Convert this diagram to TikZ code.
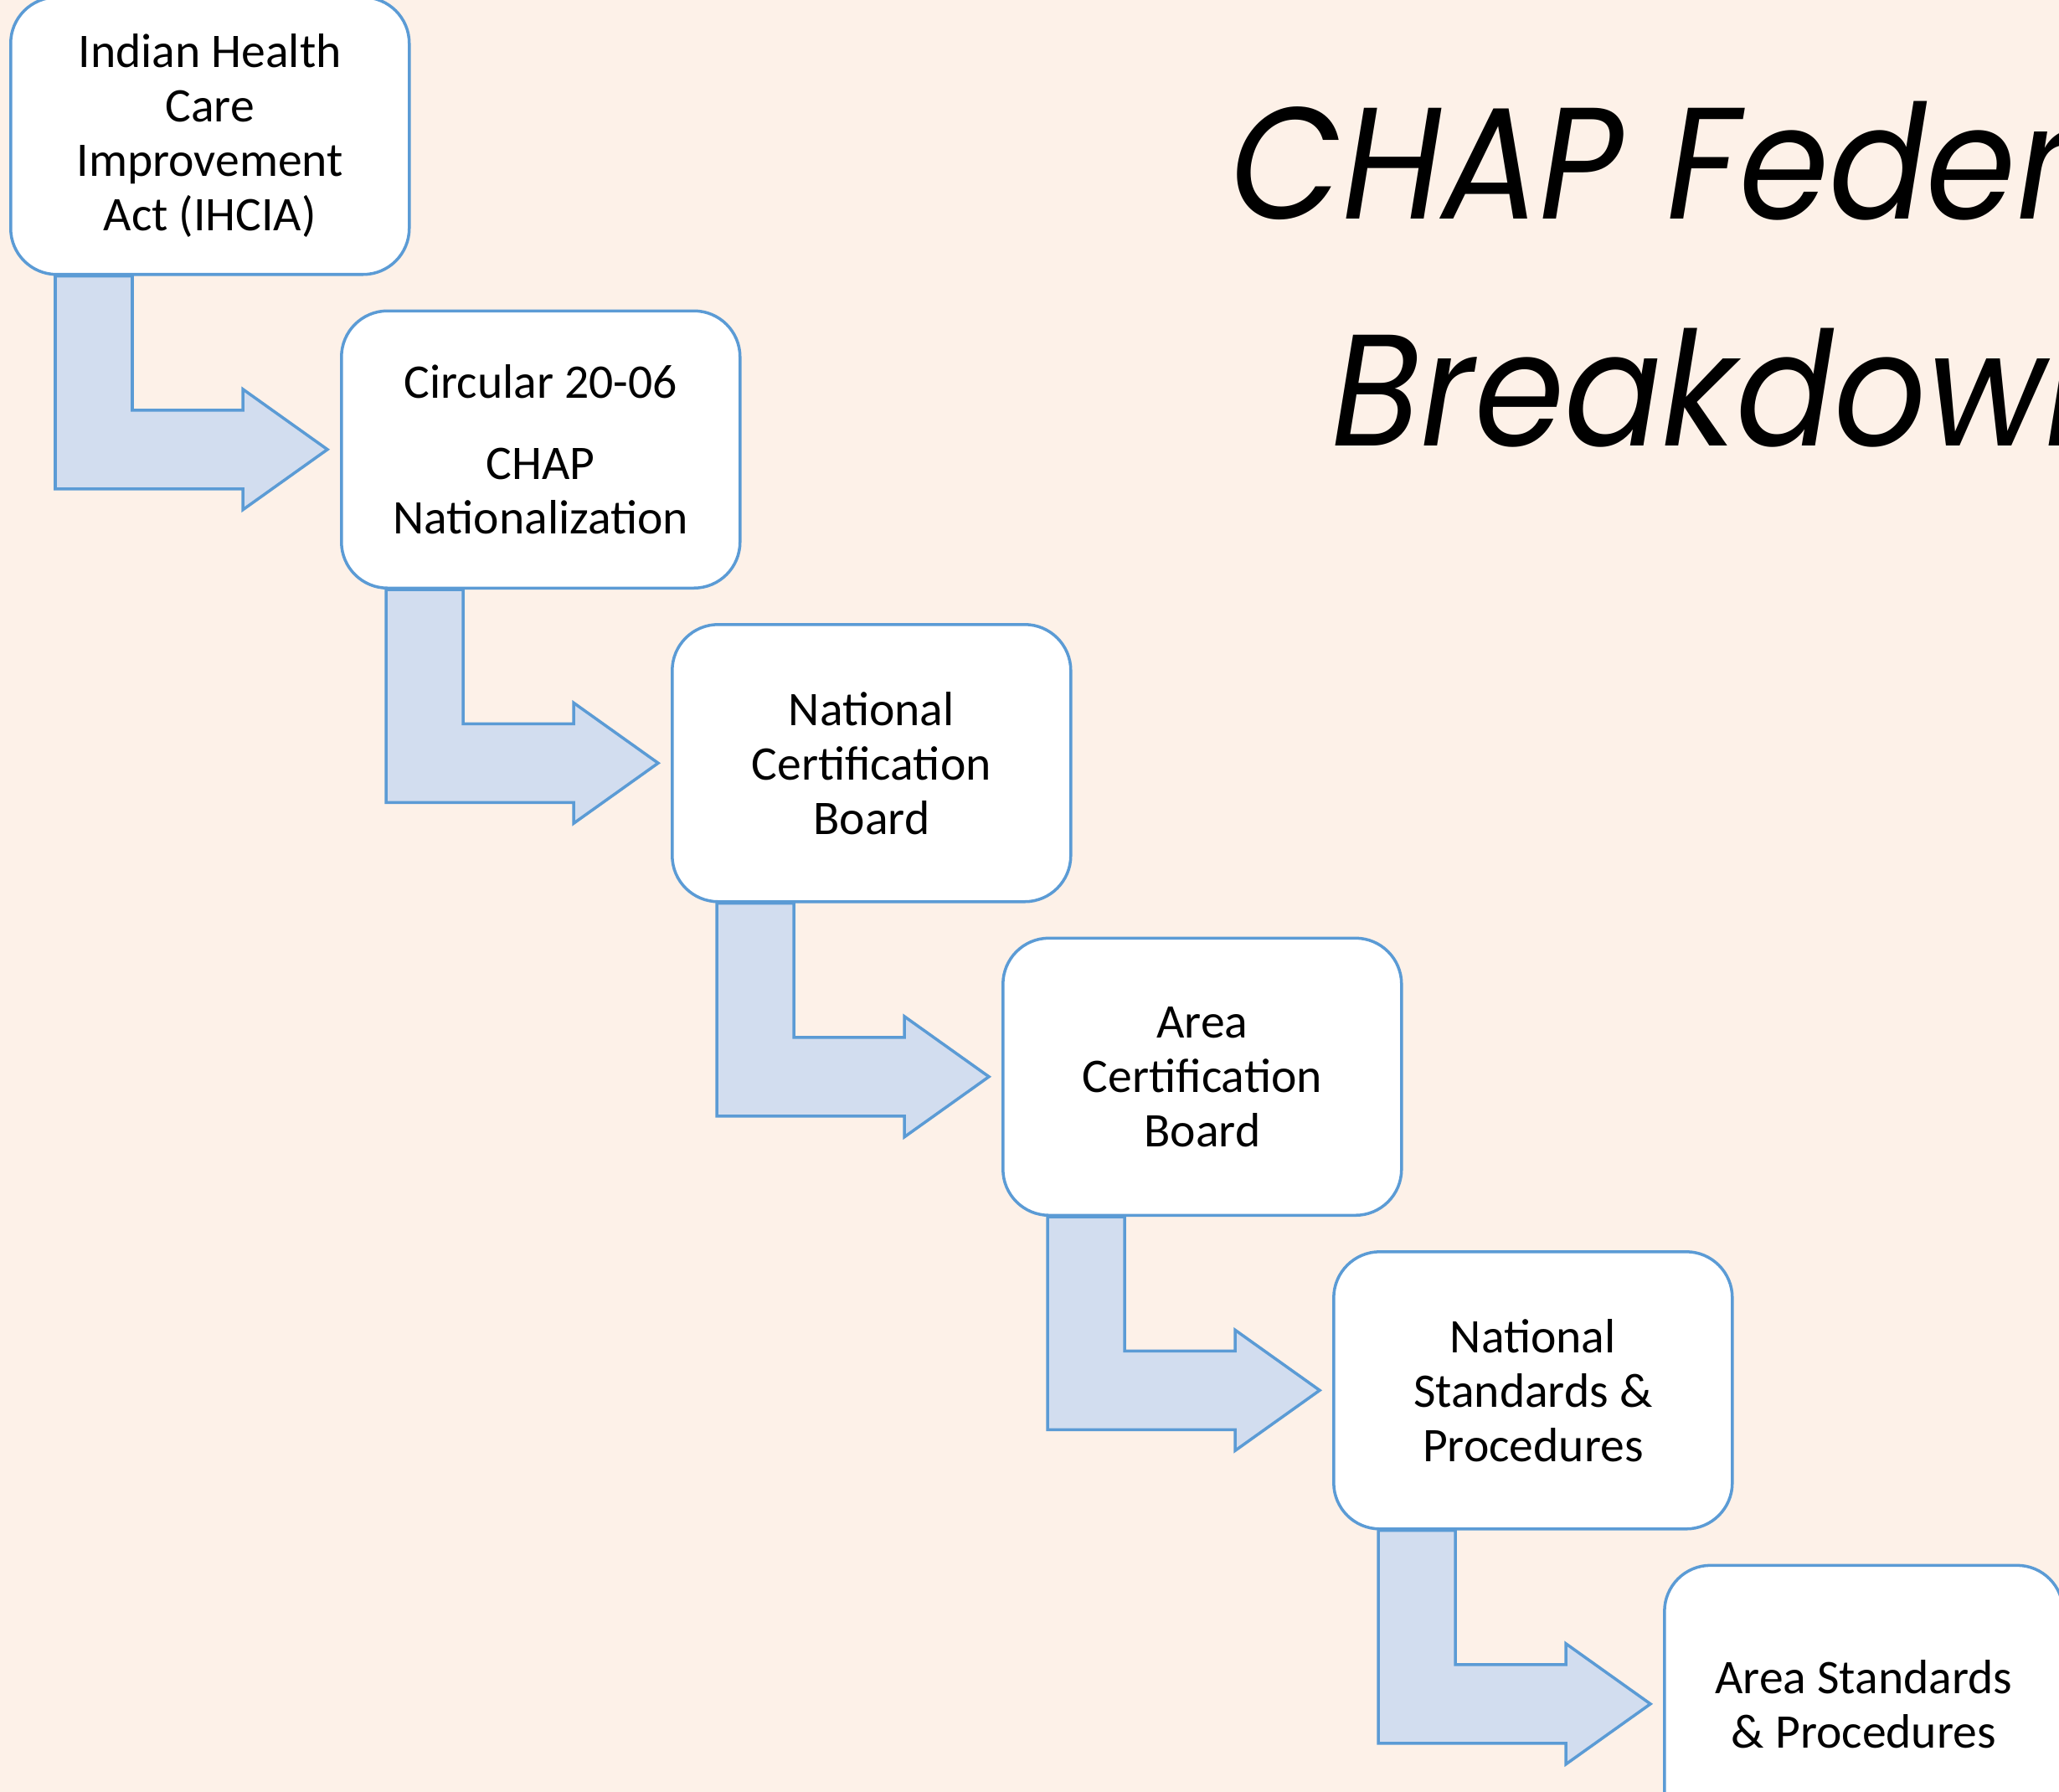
\documentclass[tikz,border=0pt]{standalone}
\usepackage{fontspec}
\setmainfont{Carlito}
\newfontfamily\titlefont{Poppins}[FakeStretch=0.91]
\usetikzlibrary{positioning,calc,backgrounds}
\definecolor{pagebg}{HTML}{FDF1E8}
\definecolor{boxline}{HTML}{5B9BD5}
\definecolor{arrowfill}{HTML}{D2DDEF}

\begin{document}
\begin{tikzpicture}[font=\fontsize{16.4}{18.5}\selectfont,
 box/.style={draw=boxline, fill=white, line width=1pt, rounded corners=5.5mm,
            minimum width=4.76cm, minimum height=3.31cm, align=center, inner sep=0pt},
 bentarrow/.style={draw=boxline, fill=arrowfill, line width=1pt, line join=miter},
 heading/.style={anchor=base west, inner sep=0pt, font=\titlefont\itshape\fontsize{54}{60}\selectfont}]

    \useasboundingbox (0,0) rectangle (24.59,-21.40);
    \clip (0,0) rectangle (24.59,-21.40);

    \node[box, anchor=north west] (ihcia) at (0.11,0.05) {Indian Health\\Care\\Improvement\\Act (IHCIA)};
    \node[box, below right=4.0mm and -8.45mm of ihcia] (circ) {Circular 20-06\\[9pt]CHAP\\Nationalization};
    \node[box, below right=4.0mm and -8.45mm of circ] (ncb) {National\\Certification\\Board};
    \node[box, below right=4.0mm and -8.45mm of ncb] (acb) {Area\\Certification\\Board};
    \node[box, below right=4.0mm and -8.45mm of acb] (nsp) {National\\Standards \&\\Procedures};
    \node[box, below right=4.0mm and -8.45mm of nsp] (asp) {Area Standards\\\& Procedures};

    \node[heading] (title) at (14.69,-2.62) {CHAP Federal};
    \node[heading] (subtitle) at (15.90,-5.33) {Breakdown};

    \begin{scope}[on background layer]
        \fill[pagebg] (0,0) rectangle (24.59,-21.40);
        %bent arrows from box to box
        \foreach \s/\t in {ihcia/circ, circ/ncb, ncb/acb, acb/nsp, nsp/asp}
            \draw[bentarrow] ($(\s.south west)+(0.55,0)$) |- ($(\t.west)+(-1.16,-0.47)$) -- ++(0,-0.25)
                -- ($(\t.west)+(-0.15,0)$) -- ($(\t.west)+(-1.16,0.72)$) -- ++(0,-0.25)
                -| ($(\s.south west)+(1.47,0)$) -- cycle;
    \end{scope}
\end{tikzpicture}
\end{document}
